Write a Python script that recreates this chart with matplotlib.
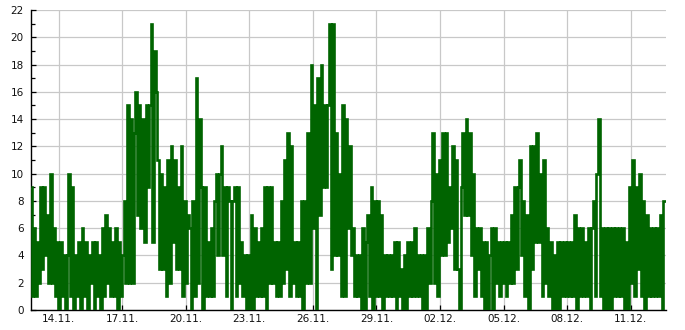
import matplotlib
matplotlib.use("Agg")
import matplotlib.pyplot as plt
import matplotlib.dates as mdates
import numpy as np
import pandas as pd

# Segment boundaries (timestamps) and values
seg_bounds = ["2021-11-12 16:17", "2021-11-20 04:42", "2021-11-27 17:56",
              "2021-12-05 07:08", "2021-12-12 15:50"]

seg1 = [9, 1, 6, 1, 5, 2, 9, 3, 9, 4, 7, 2, 10, 2, 6, 1, 5, 0, 5, 1, 4, 0, 4,
        10, 1, 9, 0, 4, 1, 5, 0, 6, 1, 5, 0, 4, 2, 5, 0, 5, 1, 4, 0,
        6, 1, 7, 2, 6, 1, 5, 1, 6, 0, 5, 1, 4, 8, 2, 15, 2, 14, 2, 13,
        16, 7, 15, 6, 14, 5, 15, 9, 15, 21, 5, 19, 16, 11, 3, 10, 3,
        9, 1, 11, 2, 12, 5, 11, 3, 9, 3, 12, 1, 8, 2, 7]

seg2 = [6, 0, 8, 1, 17, 2, 14, 9, 0, 9, 1, 5, 1, 6, 1, 8, 10, 4, 10, 12, 4,
        9, 1, 9, 8, 0, 8, 9, 1, 9, 2, 5, 1, 4, 0, 4, 0, 7, 0, 6,
        1, 5, 1, 6, 1, 9, 0, 9, 2, 9, 2, 5, 1, 5, 1, 8, 2, 11, 3,
        13, 1, 12, 2, 5, 1, 5, 1, 8, 0, 8, 2, 13, 2, 18, 6, 15, 0,
        17, 7, 18, 9, 15, 9, 15, 21, 3, 21, 4, 13, 4, 10, 1, 15, 1, 14, 6]

seg3 = [12, 4, 6, 1, 4, 1, 4, 0, 6, 0, 5, 7, 1, 9, 0, 8, 1, 8, 1, 7, 0,
        4, 1, 4, 1, 4, 1, 5, 0, 5, 1, 3, 0, 4, 0, 5, 1, 5, 1, 6, 1,
        4, 1, 4, 0, 4, 0, 6, 2, 8, 13, 2, 10, 1, 11, 4, 13, 4, 13,
        5, 9, 6, 12, 3, 11, 3, 0, 9, 13, 7, 14, 7, 13, 4, 10, 1, 6,
        3, 6, 1, 5, 0, 5, 0, 4, 6, 0, 6, 2, 5, 1, 5, 2, 5, 1, 5]

seg4 = [2, 7, 2, 9, 3, 9, 11, 4, 8, 1, 7, 0, 12, 3, 12, 5, 13, 5, 10, 1,
        11, 2, 6, 1, 5, 0, 4, 0, 5, 0, 5, 1, 5, 1, 5, 1, 5, 1, 7, 0, 6,
        1, 6, 1, 5, 1, 6, 0, 6, 8, 1, 10, 14, 1, 6, 0, 6, 0, 6, 0, 6,
        1, 6, 1, 6, 1, 6, 0, 5, 0, 9, 2, 11, 1, 9, 3, 10, 1, 8, 0, 7,
        1, 6, 1, 6, 1, 6, 1, 7, 0, 8]

segments = [seg1, seg2, seg3, seg4]

x_ticks = ["2021-11-14", "2021-11-17", "2021-11-20", "2021-11-23", "2021-11-26",
           "2021-11-29", "2021-12-02", "2021-12-05", "2021-12-08", "2021-12-11"]

# Build time axis per segment
bounds = pd.to_datetime(seg_bounds)
times = []
values = []
for i, seg in enumerate(segments):
    t = pd.date_range(bounds[i], bounds[i + 1], periods=len(seg) + 1)[:-1]
    times.extend(t)
    values.extend(seg)
times.append(bounds[-1])
values.append(seg4[-1])

fig = plt.figure(figsize=(6.85, 3.3), dpi=100)
ax = fig.add_axes([0.0448, 0.0606, 0.9272, 0.9091])

ax.plot(times, values, color="#006400", lw=1.9, drawstyle="steps-mid",
        solid_joinstyle="miter", solid_capstyle="butt", zorder=3)

ax.set_xlim(bounds[0], bounds[-1])
ax.set_ylim(0, 22)
ax.set_yticks(np.arange(0, 23, 2))
ax.set_yticks(np.arange(1, 22, 2), minor=True)
ax.set_xticks(pd.to_datetime(x_ticks))
ax.xaxis.set_major_formatter(mdates.DateFormatter("%d.%m."))

ax.grid(True, which="major", color="#c8c8c8", lw=0.9, zorder=0)
ax.set_axisbelow(True)
for s in ["top", "right"]:
    ax.spines[s].set_visible(False)
for s in ["left", "bottom"]:
    ax.spines[s].set_color("black")
    ax.spines[s].set_linewidth(1.0)

ax.tick_params(axis="both", which="major", direction="in", length=3.5, width=0.9,
               labelsize=7.5, colors="black", labelcolor="#111111")
ax.tick_params(axis="y", which="minor", direction="in", length=3, width=0.9)
ax.tick_params(axis="y", which="major", pad=5)
ax.tick_params(axis="x", which="major", pad=3)

fig.savefig("out.png", dpi=100)
